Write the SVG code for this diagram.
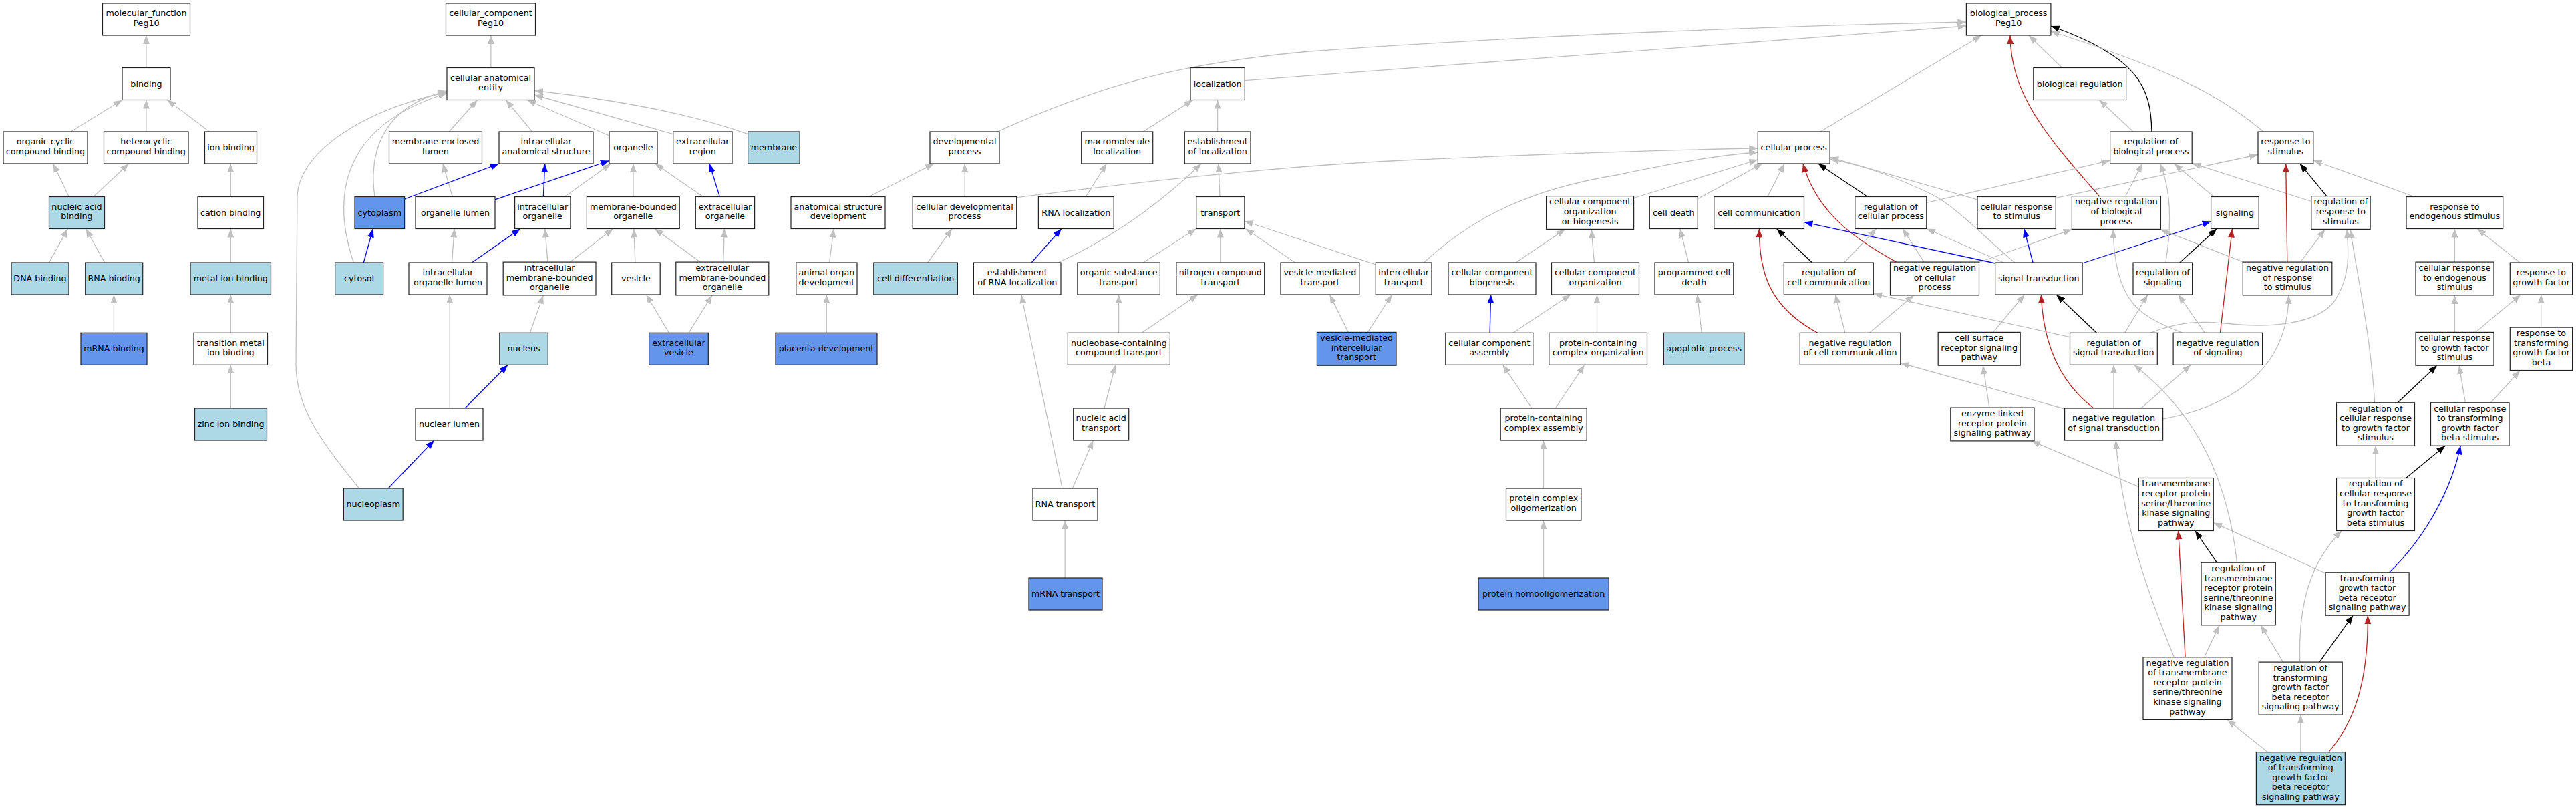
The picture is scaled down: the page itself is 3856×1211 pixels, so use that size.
<svg xmlns="http://www.w3.org/2000/svg" width="3856" height="1211" viewBox="0 0 3856 1211">
<style>
.n rect{fill:#fff;stroke:#222;stroke-width:1.2}
.lb rect{fill:#add8e6}
.cb rect{fill:#6495ed}
text{font-family:"DejaVu Sans","Liberation Sans",sans-serif;font-size:12.7px;text-anchor:middle;fill:#000}
#edges path{fill:none;stroke-width:1.3}
#edges .g{stroke:#c0c0c0;marker-end:url(#ag)}
#edges .b{stroke:#0000ff;marker-end:url(#ab)}
#edges .r{stroke:#b22222;marker-end:url(#ar)}
#edges .k{stroke:#000;marker-end:url(#ak)}
</style>
<defs>
<marker id="ag" viewBox="0 0 13 10" refX="13" refY="5" markerWidth="13" markerHeight="10" markerUnits="userSpaceOnUse" orient="auto"><path d="M0,0 L13,5 L0,10 z" fill="#c0c0c0"/></marker>
<marker id="ab" viewBox="0 0 13 10" refX="13" refY="5" markerWidth="13" markerHeight="10" markerUnits="userSpaceOnUse" orient="auto"><path d="M0,0 L13,5 L0,10 z" fill="#0000ff"/></marker>
<marker id="ar" viewBox="0 0 13 10" refX="13" refY="5" markerWidth="13" markerHeight="10" markerUnits="userSpaceOnUse" orient="auto"><path d="M0,0 L13,5 L0,10 z" fill="#b22222"/></marker>
<marker id="ak" viewBox="0 0 13 10" refX="13" refY="5" markerWidth="13" markerHeight="10" markerUnits="userSpaceOnUse" orient="auto"><path d="M0,0 L13,5 L0,10 z" fill="#000"/></marker>
</defs>
<rect x="0" y="0" width="3856" height="1211" fill="#fff"/>
<g id="edges">
<path class="g" d="M218.9,101.5 L218.9,53"/>
<path class="g" d="M106.1,197 L183,149.5"/>
<path class="g" d="M218.9,197 L218.9,149.5"/>
<path class="g" d="M313.4,197 L250.4,149.5"/>
<path class="g" d="M103.2,294.5 L79.6,245"/>
<path class="g" d="M140.1,294.5 L192.8,245"/>
<path class="g" d="M345.3,294.5 L345.3,245"/>
<path class="g" d="M73.4,393 L101.6,342.5"/>
<path class="g" d="M156.7,393 L128.5,342.5"/>
<path class="g" d="M345.3,393 L345.3,342.5"/>
<path class="g" d="M170.4,498.3 L170.4,441"/>
<path class="g" d="M345.3,498.3 L345.3,441"/>
<path class="g" d="M345.3,611 L345.3,546.3"/>
<path class="g" d="M734.9,101.5 L734.9,53"/>
<path class="g" d="M672.3,197 L714.6,149.5"/>
<path class="g" d="M796.7,197 L757.3,149.5"/>
<path class="g" d="M911.9,203 L789.2,149.5"/>
<path class="g" d="M1007.7,200.7 L800,142"/>
<path class="g" d="M1119.6,200.7 Q1000,158 800,135.5"/>
<path class="g" d="M560.9,294.5 C552,230 570,160 669,136"/>
<path class="g" d="M529.4,393 C498,300 505,190 669,139.5"/>
<path class="g" d="M537.7,731 C480,660 443,610 443,545 L445,292 C450,220 560,160 669,138"/>
<path class="g" d="M677.3,294.5 L662.8,245"/>
<path class="b" d="M741.1,298.8 L912,240.5"/>
<path class="b" d="M605.6,298 L747,245"/>
<path class="b" d="M813.3,294.5 L815.8,245"/>
<path class="g" d="M845.2,294.5 L914.4,245"/>
<path class="g" d="M948,294.5 L948,245"/>
<path class="g" d="M1052.5,294.5 L980.7,245"/>
<path class="b" d="M1077.3,294.5 L1062,245"/>
<path class="b" d="M544.3,393 L558.4,342.5"/>
<path class="g" d="M676.5,393 L680.2,342.5"/>
<path class="b" d="M706.3,393 L778.9,342.5"/>
<path class="g" d="M819.9,392.1 L815.8,342.5"/>
<path class="g" d="M853.5,392.1 L917.7,342.5"/>
<path class="g" d="M950.9,393 L948.8,342.5"/>
<path class="g" d="M1048.3,392.1 L980,342.5"/>
<path class="g" d="M1082.7,392.1 L1084.4,342.5"/>
<path class="g" d="M793.4,498.3 L813.3,441.9"/>
<path class="g" d="M1001.5,498.3 L967.5,441"/>
<path class="g" d="M1030.9,498.3 L1066.1,441.9"/>
<path class="g" d="M673.2,611 L673.2,441"/>
<path class="b" d="M696,611 L760.2,546.3"/>
<path class="b" d="M581.2,731 L650,659"/>
<path class="g" d="M1241.5,393 L1248.1,342.5"/>
<path class="g" d="M1237.3,498.3 L1237.3,441"/>
<path class="g" d="M1300.7,294.5 L1398.1,245"/>
<path class="g" d="M1444.2,294.5 L1444.2,245"/>
<path class="g" d="M1388.6,393 L1425.1,342.5"/>
<path class="g" d="M1493.5,197 C1640,130 1760,95 1960,77 C2300,52 2700,38 2943.4,33"/>
<path class="g" d="M1863.3,120.6 L2943.4,39"/>
<path class="g" d="M1711.1,197 L1785.7,149.5"/>
<path class="g" d="M1822.6,197 L1822.6,149.5"/>
<path class="g" d="M1521.7,295.7 C1700,273 1900,250 2100,240 C2350,229 2500,224 2631.3,222"/>
<path class="g" d="M1625.3,294.5 L1656.4,245"/>
<path class="g" d="M1826,294.5 L1823.9,245"/>
<path class="b" d="M1544.1,393 L1588.8,342.5"/>
<path class="g" d="M1583.9,393 Q1700,340 1798.2,245"/>
<path class="g" d="M1711.1,393 L1790.7,342.5"/>
<path class="g" d="M1826.8,393 L1826.8,342.5"/>
<path class="g" d="M1938.7,393 L1864.5,342.5"/>
<path class="g" d="M2059.3,396 L1862.9,331"/>
<path class="g" d="M1674.6,498.3 L1674.6,441"/>
<path class="g" d="M1709,498.3 L1793.2,441"/>
<path class="g" d="M1653.1,611 L1669.7,546.3"/>
<path class="g" d="M1590.1,731 L1528.7,441"/>
<path class="g" d="M1605.4,731 L1636.5,659"/>
<path class="g" d="M1594.2,865 L1594.2,779"/>
<path class="g" d="M2018.2,497.4 L1990.5,441"/>
<path class="g" d="M2047.3,497.4 L2083.7,441"/>
<path class="g" d="M2131.4,393 C2200,330 2280,285 2420,262 C2500,245 2570,232 2631.3,228"/>
<path class="g" d="M2269,393 L2342.8,343.4"/>
<path class="g" d="M2386.4,393 L2382.2,343.4"/>
<path class="b" d="M2230.1,498.3 L2231.7,441"/>
<path class="g" d="M2264.9,498.3 L2351.1,441"/>
<path class="g" d="M2390.5,498.3 L2390.5,441"/>
<path class="g" d="M2527.7,393 L2514.9,342.5"/>
<path class="g" d="M2547.2,498.3 L2540.6,441"/>
<path class="g" d="M2293.1,611 L2249.6,546.3"/>
<path class="g" d="M2328.3,611 L2371.8,546.3"/>
<path class="g" d="M2310.5,731 L2310.5,659"/>
<path class="g" d="M2310.5,865 L2310.5,779"/>
<path class="g" d="M2445.6,296.5 L2631.3,239"/>
<path class="g" d="M2541.4,297.6 L2638,245"/>
<path class="g" d="M2725,197 L2966.2,53"/>
<path class="g" d="M3086.5,101.5 L3036.7,53"/>
<path class="g" d="M3193,197 L3142.4,149.5"/>
<path class="k" d="M3220.9,197 C3220,130 3200,85 3069.9,39"/>
<path class="r" d="M3142.4,293.6 C3060,200 3010,140 3009,53"/>
<path class="g" d="M3388.3,197 C3320,140 3250,105 3069.9,47"/>
<path class="g" d="M2645.8,294.5 L2671.1,245"/>
<path class="k" d="M2795.5,294.5 L2721.7,245"/>
<path class="g" d="M2883.8,303.4 L3158.6,240.4"/>
<path class="g" d="M2960,298.8 L2739.1,235.4"/>
<path class="g" d="M3077.3,296.4 L3380,231.5"/>
<path class="g" d="M3016,393 C2975,360 2930,310 2890,290 C2830,262 2790,248 2739.1,238"/>
<path class="g" d="M2999.4,393 L2883.8,342.5"/>
<path class="k" d="M2712.5,393 L2659.5,342.5"/>
<path class="g" d="M2760.6,393 L2808.7,342.5"/>
<path class="r" d="M2838.6,392.1 C2780,360 2720,320 2698.9,245"/>
<path class="g" d="M2880,392.1 L2848.1,342.5"/>
<path class="g" d="M2962.5,392.5 L3101.4,343.4"/>
<path class="b" d="M2986.6,394 L2700.5,332.6"/>
<path class="b" d="M3043,393 L3029.7,342.5"/>
<path class="b" d="M3117.1,394 L3309.6,331.5"/>
<path class="k" d="M3138.3,498.3 L3078.2,441"/>
<path class="g" d="M3098.5,504.6 L2804.2,439.6"/>
<path class="g" d="M3180.6,498.3 L3215,441"/>
<path class="r" d="M2720.8,498.3 C2650,460 2633,410 2633.4,342.5"/>
<path class="g" d="M2761.9,498.3 L2747.4,441"/>
<path class="g" d="M2798.4,498.3 L2864.7,441.9"/>
<path class="g" d="M2983.7,497.4 L3030.5,441"/>
<path class="r" d="M3134.1,611 C3080,570 3058,510 3055.4,441"/>
<path class="g" d="M3164,611 L3164,546.3"/>
<path class="g" d="M3090.6,612 L2844.8,543.5"/>
<path class="g" d="M3237.7,627 C3330,610 3425,560 3425.9,441.9"/>
<path class="g" d="M3205,611 L3279.5,546.3"/>
<path class="g" d="M3300.4,498.3 L3260.7,441"/>
<path class="r" d="M3323.4,498.3 L3341.4,342.5"/>
<path class="k" d="M3262.8,393 L3318.4,342.5"/>
<path class="g" d="M3241.8,393 C3252,330 3248,280 3233.5,245"/>
<path class="g" d="M3266.9,498.3 C3210,475 3165,460 3163.2,343.4"/>
<path class="g" d="M3181.8,293.6 L3206.7,245"/>
<path class="g" d="M3459.8,301.5 L3281.2,244.5"/>
<path class="k" d="M3482.8,293.6 L3442.7,245"/>
<path class="g" d="M3313.8,294.5 L3254.4,245"/>
<path class="r" d="M3423.8,392.1 L3421.7,245"/>
<path class="g" d="M3443.5,392.1 L3480.3,343.4"/>
<path class="g" d="M3361,393.3 L3233.5,343.4"/>
<path class="g" d="M3614.2,294.5 L3462.8,240"/>
<path class="g" d="M3674.4,392.1 L3674.4,342.5"/>
<path class="g" d="M3771.9,393 L3708.3,342.5"/>
<path class="g" d="M3674.4,497.4 L3674.4,441.9"/>
<path class="g" d="M3705.4,497.4 L3773.2,441"/>
<path class="g" d="M3803.7,490.1 L3803.7,441"/>
<path class="k" d="M3589.1,602.8 L3647.7,547.2"/>
<path class="g" d="M3554.8,602.8 C3548,500 3530,420 3518,343.4"/>
<path class="g" d="M3218.8,498.3 C3260,482 3290,480 3330,484 C3400,492 3470,485 3495,450 C3518,415 3516,380 3513,343.4"/>
<path class="g" d="M3690.3,602.8 L3681.1,547.2"/>
<path class="g" d="M3728.4,602.8 L3772.3,554.5"/>
<path class="g" d="M3556,715.5 L3556,667.2"/>
<path class="k" d="M3601.6,715.5 L3660.2,667.2"/>
<path class="g" d="M3201.3,728.6 L3040.9,659.9"/>
<path class="g" d="M2977.9,610.1 L2968.3,547.2"/>
<path class="g" d="M3481.1,858 L3313.3,782.4"/>
<path class="b" d="M3576.5,856.8 C3625,810 3668,740 3683.2,667.2"/>
<path class="k" d="M3318.4,842.2 L3285.8,794.5"/>
<path class="g" d="M3348.5,842.2 C3335,720 3290,620 3194.3,546.3"/>
<path class="r" d="M3271.1,983.8 L3260.7,794.5"/>
<path class="g" d="M3299.6,983.8 L3322.2,935.8"/>
<path class="g" d="M3254.4,983.8 C3220,900 3175,780 3167.3,659"/>
<path class="g" d="M3417.6,991.1 L3384.1,935.8"/>
<path class="k" d="M3472,991.1 L3522.2,921.2"/>
<path class="g" d="M3442.7,991.1 C3440,900 3460,840 3505.4,794.5"/>
<path class="g" d="M3394.6,1125.7 L3333.9,1077.4"/>
<path class="g" d="M3443.9,1125.7 L3443.9,1070.1"/>
<path class="r" d="M3485.8,1125.7 C3525,1080 3545,1020 3544.3,921.2"/>
</g>
<g id="n_mf" class="n"><rect x="153.5" y="5" width="131" height="48"/><text><tspan x="219" y="24.2">molecular_function</tspan><tspan x="219" y="38.8">Peg10</tspan></text></g>
<g id="n_cc" class="n"><rect x="667.5" y="5" width="134" height="48"/><text><tspan x="734.5" y="24.2">cellular_component</tspan><tspan x="734.5" y="38.8">Peg10</tspan></text></g>
<g id="n_bp" class="n"><rect x="2943.4" y="5" width="126.5" height="48"/><text><tspan x="3006.65" y="24.2">biological_process</tspan><tspan x="3006.65" y="38.8">Peg10</tspan></text></g>
<g id="n_binding" class="n"><rect x="183" y="101.5" width="72" height="48"/><text x="219" y="129.5">binding</text></g>
<g id="n_cae" class="n"><rect x="669" y="101.5" width="131" height="48"/><text><tspan x="734.5" y="120.7">cellular anatomical</tspan><tspan x="734.5" y="135.3">entity</tspan></text></g>
<g id="n_loc" class="n"><rect x="1782" y="101.5" width="81.3" height="48"/><text x="1822.65" y="129.5">localization</text></g>
<g id="n_breg" class="n"><rect x="3043.8" y="101.5" width="138.8" height="48"/><text x="3113.2" y="129.5">biological regulation</text></g>
<g id="n_occb" class="n"><rect x="5" y="197" width="126" height="48"/><text><tspan x="68" y="216.2">organic cyclic</tspan><tspan x="68" y="230.8">compound binding</tspan></text></g>
<g id="n_hccb" class="n"><rect x="155.5" y="197" width="126.5" height="48"/><text><tspan x="218.75" y="216.2">heterocyclic</tspan><tspan x="218.75" y="230.8">compound binding</tspan></text></g>
<g id="n_ionb" class="n"><rect x="306.5" y="197" width="78" height="48"/><text x="345.5" y="225">ion binding</text></g>
<g id="n_mel" class="n"><rect x="582.5" y="197" width="139" height="48"/><text><tspan x="652" y="216.2">membrane-enclosed</tspan><tspan x="652" y="230.8">lumen</tspan></text></g>
<g id="n_ias" class="n"><rect x="747" y="197" width="141" height="48"/><text><tspan x="817.5" y="216.2">intracellular</tspan><tspan x="817.5" y="230.8">anatomical structure</tspan></text></g>
<g id="n_org" class="n"><rect x="912" y="197" width="72" height="48"/><text x="948" y="225">organelle</text></g>
<g id="n_ecr" class="n"><rect x="1007.7" y="197" width="88.3" height="48"/><text><tspan x="1051.85" y="216.2">extracellular</tspan><tspan x="1051.85" y="230.8">region</tspan></text></g>
<g id="n_mem" class="n lb"><rect x="1119.6" y="197" width="77.5" height="48"/><text x="1158.35" y="225">membrane</text></g>
<g id="n_dev" class="n"><rect x="1392" y="197" width="104" height="48"/><text><tspan x="1444" y="216.2">developmental</tspan><tspan x="1444" y="230.8">process</tspan></text></g>
<g id="n_mml" class="n"><rect x="1618.7" y="197" width="107" height="48"/><text><tspan x="1672.2" y="216.2">macromolecule</tspan><tspan x="1672.2" y="230.8">localization</tspan></text></g>
<g id="n_eloc" class="n"><rect x="1773.3" y="197" width="98.7" height="48"/><text><tspan x="1822.65" y="216.2">establishment</tspan><tspan x="1822.65" y="230.8">of localization</tspan></text></g>
<g id="n_cp" class="n"><rect x="2631.3" y="197" width="107.8" height="48"/><text x="2685.2" y="225">cellular process</text></g>
<g id="n_rbp" class="n"><rect x="3158.6" y="197" width="122.6" height="48"/><text><tspan x="3219.9" y="216.2">regulation of</tspan><tspan x="3219.9" y="230.8">biological process</tspan></text></g>
<g id="n_rs" class="n"><rect x="3380" y="197" width="82.8" height="48"/><text><tspan x="3421.4" y="216.2">response to</tspan><tspan x="3421.4" y="230.8">stimulus</tspan></text></g>
<g id="n_nab" class="n lb"><rect x="73.5" y="294.5" width="83" height="48"/><text><tspan x="115" y="313.7">nucleic acid</tspan><tspan x="115" y="328.3">binding</tspan></text></g>
<g id="n_catb" class="n"><rect x="296" y="294.5" width="98.5" height="48"/><text x="345.25" y="322.5">cation binding</text></g>
<g id="n_cyto" class="n cb"><rect x="531" y="294.5" width="74.6" height="48"/><text x="568.3" y="322.5">cytoplasm</text></g>
<g id="n_orgl" class="n"><rect x="622" y="294.5" width="119" height="48"/><text x="681.5" y="322.5">organelle lumen</text></g>
<g id="n_io" class="n"><rect x="770.6" y="294.5" width="83.3" height="48"/><text><tspan x="812.25" y="313.7">intracellular</tspan><tspan x="812.25" y="328.3">organelle</tspan></text></g>
<g id="n_mbo" class="n"><rect x="878.4" y="294.5" width="138.8" height="48"/><text><tspan x="947.8" y="313.7">membrane-bounded</tspan><tspan x="947.8" y="328.3">organelle</tspan></text></g>
<g id="n_eco" class="n"><rect x="1041.3" y="294.5" width="88.3" height="48"/><text><tspan x="1085.45" y="313.7">extracellular</tspan><tspan x="1085.45" y="328.3">organelle</tspan></text></g>
<g id="n_asd" class="n"><rect x="1184" y="294.5" width="141" height="48"/><text><tspan x="1254.5" y="313.7">anatomical structure</tspan><tspan x="1254.5" y="328.3">development</tspan></text></g>
<g id="n_cdp" class="n"><rect x="1366.2" y="294.5" width="155.5" height="48"/><text><tspan x="1443.95" y="313.7">cellular developmental</tspan><tspan x="1443.95" y="328.3">process</tspan></text></g>
<g id="n_rnal" class="n"><rect x="1554.4" y="294.5" width="112.8" height="48"/><text x="1610.8" y="322.5">RNA localization</text></g>
<g id="n_trans" class="n"><rect x="1790.7" y="294.5" width="72.2" height="48"/><text x="1826.8" y="322.5">transport</text></g>
<g id="n_ccob" class="n"><rect x="2314.6" y="293.6" width="131" height="49.8"/><text><tspan x="2380.1" y="306.4">cellular component</tspan><tspan x="2380.1" y="321">organization</tspan><tspan x="2380.1" y="335.6">or biogenesis</tspan></text></g>
<g id="n_cdeath" class="n"><rect x="2469.3" y="294.5" width="72" height="48"/><text x="2505.3" y="322.5">cell death</text></g>
<g id="n_ccomm" class="n"><rect x="2565.8" y="294.5" width="134.7" height="48"/><text x="2633.15" y="322.5">cell communication</text></g>
<g id="n_rcp" class="n"><rect x="2776.8" y="294.5" width="107" height="48"/><text><tspan x="2830.3" y="313.7">regulation of</tspan><tspan x="2830.3" y="328.3">cellular process</tspan></text></g>
<g id="n_crs" class="n"><rect x="2960" y="294.5" width="117.3" height="48"/><text><tspan x="3018.65" y="313.7">cellular response</tspan><tspan x="3018.65" y="328.3">to stimulus</tspan></text></g>
<g id="n_nrbp" class="n"><rect x="3101.4" y="293.6" width="133" height="49.8"/><text><tspan x="3167.9" y="306.4">negative regulation</tspan><tspan x="3167.9" y="321">of biological</tspan><tspan x="3167.9" y="335.6">process</tspan></text></g>
<g id="n_sig" class="n"><rect x="3309.6" y="294.5" width="71.6" height="48"/><text x="3345.4" y="322.5">signaling</text></g>
<g id="n_rrs" class="n"><rect x="3459.8" y="293.6" width="88.3" height="49.8"/><text><tspan x="3503.95" y="306.4">regulation of</tspan><tspan x="3503.95" y="321">response to</tspan><tspan x="3503.95" y="335.6">stimulus</tspan></text></g>
<g id="n_res" class="n"><rect x="3602" y="294.5" width="144.7" height="48"/><text><tspan x="3674.35" y="313.7">response to</tspan><tspan x="3674.35" y="328.3">endogenous stimulus</tspan></text></g>
<g id="n_dnab" class="n lb"><rect x="17" y="393" width="86" height="48"/><text x="60" y="421">DNA binding</text></g>
<g id="n_rnab" class="n lb"><rect x="127.7" y="393" width="86" height="48"/><text x="170.7" y="421">RNA binding</text></g>
<g id="n_metb" class="n lb"><rect x="285" y="393" width="120.5" height="48"/><text x="345.25" y="421">metal ion binding</text></g>
<g id="n_cytosol" class="n lb"><rect x="501.6" y="393" width="72" height="48"/><text x="537.6" y="421">cytosol</text></g>
<g id="n_iol" class="n"><rect x="612" y="393" width="117" height="48"/><text><tspan x="670.5" y="412.2">intracellular</tspan><tspan x="670.5" y="426.8">organelle lumen</tspan></text></g>
<g id="n_imbo" class="n"><rect x="753.2" y="392.1" width="138.8" height="49.8"/><text><tspan x="822.6" y="404.9">intracellular</tspan><tspan x="822.6" y="419.5">membrane-bounded</tspan><tspan x="822.6" y="434.1">organelle</tspan></text></g>
<g id="n_ves" class="n"><rect x="915.7" y="393" width="72.5" height="48"/><text x="951.95" y="421">vesicle</text></g>
<g id="n_embo" class="n"><rect x="1011.8" y="392.1" width="139" height="49.8"/><text><tspan x="1081.3" y="404.9">extracellular</tspan><tspan x="1081.3" y="419.5">membrane-bounded</tspan><tspan x="1081.3" y="434.1">organelle</tspan></text></g>
<g id="n_aod" class="n"><rect x="1191.8" y="393" width="91.2" height="48"/><text><tspan x="1237.4" y="412.2">animal organ</tspan><tspan x="1237.4" y="426.8">development</tspan></text></g>
<g id="n_cdiff" class="n lb"><rect x="1307.8" y="393" width="125.6" height="48"/><text x="1370.6" y="421">cell differentiation</text></g>
<g id="n_erl" class="n"><rect x="1457.4" y="393" width="130.6" height="48"/><text><tspan x="1522.7" y="412.2">establishment</tspan><tspan x="1522.7" y="426.8">of RNA localization</tspan></text></g>
<g id="n_ost" class="n"><rect x="1612.9" y="393" width="123.5" height="48"/><text><tspan x="1674.65" y="412.2">organic substance</tspan><tspan x="1674.65" y="426.8">transport</tspan></text></g>
<g id="n_nct" class="n"><rect x="1760.9" y="393" width="131.8" height="48"/><text><tspan x="1826.8" y="412.2">nitrogen compound</tspan><tspan x="1826.8" y="426.8">transport</tspan></text></g>
<g id="n_vmt" class="n"><rect x="1917" y="393" width="117.8" height="48"/><text><tspan x="1975.9" y="412.2">vesicle-mediated</tspan><tspan x="1975.9" y="426.8">transport</tspan></text></g>
<g id="n_ict" class="n"><rect x="2059.3" y="393" width="83.7" height="48"/><text><tspan x="2101.15" y="412.2">intercellular</tspan><tspan x="2101.15" y="426.8">transport</tspan></text></g>
<g id="n_ccb" class="n"><rect x="2168" y="393" width="131" height="48"/><text><tspan x="2233.5" y="412.2">cellular component</tspan><tspan x="2233.5" y="426.8">biogenesis</tspan></text></g>
<g id="n_cco" class="n"><rect x="2322.5" y="393" width="131" height="48"/><text><tspan x="2388" y="412.2">cellular component</tspan><tspan x="2388" y="426.8">organization</tspan></text></g>
<g id="n_pcd" class="n"><rect x="2477" y="393" width="117.8" height="48"/><text><tspan x="2535.9" y="412.2">programmed cell</tspan><tspan x="2535.9" y="426.8">death</tspan></text></g>
<g id="n_rcc" class="n"><rect x="2670.3" y="393" width="134" height="48"/><text><tspan x="2737.3" y="412.2">regulation of</tspan><tspan x="2737.3" y="426.8">cell communication</tspan></text></g>
<g id="n_nrcp" class="n"><rect x="2829.5" y="392.1" width="133" height="49.8"/><text><tspan x="2896" y="404.9">negative regulation</tspan><tspan x="2896" y="419.5">of cellular</tspan><tspan x="2896" y="434.1">process</tspan></text></g>
<g id="n_st" class="n"><rect x="2986.6" y="393" width="130.5" height="48"/><text x="3051.85" y="421">signal transduction</text></g>
<g id="n_rsig" class="n"><rect x="3193" y="393" width="88.6" height="48"/><text><tspan x="3237.3" y="412.2">regulation of</tspan><tspan x="3237.3" y="426.8">signaling</tspan></text></g>
<g id="n_nrrs" class="n"><rect x="3357.3" y="392.1" width="133.5" height="49.8"/><text><tspan x="3424.05" y="404.9">negative regulation</tspan><tspan x="3424.05" y="419.5">of response</tspan><tspan x="3424.05" y="434.1">to stimulus</tspan></text></g>
<g id="n_cres" class="n"><rect x="3616" y="392.1" width="117" height="49.8"/><text><tspan x="3674.5" y="404.9">cellular response</tspan><tspan x="3674.5" y="419.5">to endogenous</tspan><tspan x="3674.5" y="434.1">stimulus</tspan></text></g>
<g id="n_rgf" class="n"><rect x="3757.3" y="393" width="93.3" height="48"/><text><tspan x="3803.95" y="412.2">response to</tspan><tspan x="3803.95" y="426.8">growth factor</tspan></text></g>
<g id="n_mrnab" class="n cb"><rect x="121" y="498.3" width="99" height="48"/><text x="170.5" y="526.3">mRNA binding</text></g>
<g id="n_tmib" class="n"><rect x="290" y="498.3" width="110.5" height="48"/><text><tspan x="345.25" y="517.5">transition metal</tspan><tspan x="345.25" y="532.1">ion binding</tspan></text></g>
<g id="n_nuc" class="n lb"><rect x="747.8" y="498.3" width="72.5" height="48"/><text x="784.05" y="526.3">nucleus</text></g>
<g id="n_ecv" class="n cb"><rect x="971.6" y="498.3" width="88.7" height="48"/><text><tspan x="1015.95" y="517.5">extracellular</tspan><tspan x="1015.95" y="532.1">vesicle</tspan></text></g>
<g id="n_plac" class="n cb"><rect x="1161" y="498.3" width="152" height="48"/><text x="1237" y="526.3">placenta development</text></g>
<g id="n_nbct" class="n"><rect x="1598.4" y="498.3" width="153" height="48"/><text><tspan x="1674.9" y="517.5">nucleobase-containing</tspan><tspan x="1674.9" y="532.1">compound transport</tspan></text></g>
<g id="n_vmit" class="n cb"><rect x="1971.4" y="497.4" width="118.6" height="49.8"/><text><tspan x="2030.7" y="510.2">vesicle-mediated</tspan><tspan x="2030.7" y="524.8">intercellular</tspan><tspan x="2030.7" y="539.4">transport</tspan></text></g>
<g id="n_cca" class="n"><rect x="2163.8" y="498.3" width="131" height="48"/><text><tspan x="2229.3" y="517.5">cellular component</tspan><tspan x="2229.3" y="532.1">assembly</tspan></text></g>
<g id="n_pcco" class="n"><rect x="2318.8" y="498.3" width="146.7" height="48"/><text><tspan x="2392.15" y="517.5">protein-containing</tspan><tspan x="2392.15" y="532.1">complex organization</tspan></text></g>
<g id="n_apop" class="n lb"><rect x="2490.4" y="498.3" width="120.6" height="48"/><text x="2550.7" y="526.3">apoptotic process</text></g>
<g id="n_nrcc" class="n"><rect x="2694.3" y="498.3" width="150.5" height="48"/><text><tspan x="2769.55" y="517.5">negative regulation</tspan><tspan x="2769.55" y="532.1">of cell communication</tspan></text></g>
<g id="n_csrsp" class="n"><rect x="2901.2" y="497.4" width="123" height="49.8"/><text><tspan x="2962.7" y="510.2">cell surface</tspan><tspan x="2962.7" y="524.8">receptor signaling</tspan><tspan x="2962.7" y="539.4">pathway</tspan></text></g>
<g id="n_rst" class="n"><rect x="3098.5" y="498.3" width="130.8" height="48"/><text><tspan x="3163.9" y="517.5">regulation of</tspan><tspan x="3163.9" y="532.1">signal transduction</tspan></text></g>
<g id="n_nrs" class="n"><rect x="3253.1" y="498.3" width="133.5" height="48"/><text><tspan x="3319.85" y="517.5">negative regulation</tspan><tspan x="3319.85" y="532.1">of signaling</tspan></text></g>
<g id="n_crgfs" class="n"><rect x="3616" y="497.4" width="117" height="49.8"/><text><tspan x="3674.5" y="510.2">cellular response</tspan><tspan x="3674.5" y="524.8">to growth factor</tspan><tspan x="3674.5" y="539.4">stimulus</tspan></text></g>
<g id="n_rtgfb" class="n"><rect x="3757.3" y="490.1" width="93.3" height="64.4"/><text><tspan x="3803.95" y="502.9">response to</tspan><tspan x="3803.95" y="517.5">transforming</tspan><tspan x="3803.95" y="532.1">growth factor</tspan><tspan x="3803.95" y="546.7">beta</tspan></text></g>
<g id="n_znb" class="n lb"><rect x="291.5" y="611" width="108" height="48"/><text x="345.5" y="639">zinc ion binding</text></g>
<g id="n_nl" class="n"><rect x="622" y="611" width="101" height="48"/><text x="672.5" y="639">nuclear lumen</text></g>
<g id="n_nat" class="n"><rect x="1606.7" y="611" width="83" height="48"/><text><tspan x="1648.2" y="630.2">nucleic acid</tspan><tspan x="1648.2" y="644.8">transport</tspan></text></g>
<g id="n_pcca" class="n"><rect x="2246.2" y="611" width="129" height="48"/><text><tspan x="2310.7" y="630.2">protein-containing</tspan><tspan x="2310.7" y="644.8">complex assembly</tspan></text></g>
<g id="n_elrp" class="n"><rect x="2919.8" y="610.1" width="125.2" height="49.8"/><text><tspan x="2982.4" y="622.9">enzyme-linked</tspan><tspan x="2982.4" y="637.5">receptor protein</tspan><tspan x="2982.4" y="652.1">signaling pathway</tspan></text></g>
<g id="n_nrst" class="n"><rect x="3090.6" y="611" width="147" height="48"/><text><tspan x="3164.1" y="630.2">negative regulation</tspan><tspan x="3164.1" y="644.8">of signal transduction</tspan></text></g>
<g id="n_rcrgfs" class="n"><rect x="3497.5" y="602.8" width="117" height="64.4"/><text><tspan x="3556" y="615.6">regulation of</tspan><tspan x="3556" y="630.2">cellular response</tspan><tspan x="3556" y="644.8">to growth factor</tspan><tspan x="3556" y="659.4">stimulus</tspan></text></g>
<g id="n_crtgfbs" class="n"><rect x="3638.5" y="602.8" width="117.5" height="64.4"/><text><tspan x="3697.25" y="615.6">cellular response</tspan><tspan x="3697.25" y="630.2">to transforming</tspan><tspan x="3697.25" y="644.8">growth factor</tspan><tspan x="3697.25" y="659.4">beta stimulus</tspan></text></g>
<g id="n_np" class="n lb"><rect x="514.4" y="731" width="88.8" height="48"/><text x="558.8" y="759">nucleoplasm</text></g>
<g id="n_rnat" class="n"><rect x="1546" y="731" width="97" height="48"/><text x="1594.5" y="759">RNA transport</text></g>
<g id="n_pco" class="n"><rect x="2254.5" y="731" width="112.4" height="48"/><text><tspan x="2310.7" y="750.2">protein complex</tspan><tspan x="2310.7" y="764.8">oligomerization</tspan></text></g>
<g id="n_tmrp" class="n"><rect x="3201.3" y="715.5" width="112" height="79"/><text><tspan x="3257.3" y="728.3">transmembrane</tspan><tspan x="3257.3" y="742.9">receptor protein</tspan><tspan x="3257.3" y="757.5">serine/threonine</tspan><tspan x="3257.3" y="772.1">kinase signaling</tspan><tspan x="3257.3" y="786.7">pathway</tspan></text></g>
<g id="n_rcrtgfbs" class="n"><rect x="3497.5" y="715.5" width="117" height="79"/><text><tspan x="3556" y="728.3">regulation of</tspan><tspan x="3556" y="742.9">cellular response</tspan><tspan x="3556" y="757.5">to transforming</tspan><tspan x="3556" y="772.1">growth factor</tspan><tspan x="3556" y="786.7">beta stimulus</tspan></text></g>
<g id="n_mrnat" class="n cb"><rect x="1540" y="865" width="110" height="48"/><text x="1595" y="893">mRNA transport</text></g>
<g id="n_pho" class="n cb"><rect x="2213" y="865" width="195.3" height="48"/><text x="2310.65" y="893">protein homooligomerization</text></g>
<g id="n_rtmrp" class="n"><rect x="3295" y="842.2" width="111.3" height="93.6"/><text><tspan x="3350.65" y="855">regulation of</tspan><tspan x="3350.65" y="869.6">transmembrane</tspan><tspan x="3350.65" y="884.2">receptor protein</tspan><tspan x="3350.65" y="898.8">serine/threonine</tspan><tspan x="3350.65" y="913.4">kinase signaling</tspan><tspan x="3350.65" y="928">pathway</tspan></text></g>
<g id="n_tgfbrsp" class="n"><rect x="3481.1" y="856.8" width="125" height="64.4"/><text><tspan x="3543.6" y="869.6">transforming</tspan><tspan x="3543.6" y="884.2">growth factor</tspan><tspan x="3543.6" y="898.8">beta receptor</tspan><tspan x="3543.6" y="913.4">signaling pathway</tspan></text></g>
<g id="n_nrtmrp" class="n"><rect x="3208" y="983.8" width="133" height="93.6"/><text><tspan x="3274.5" y="996.6">negative regulation</tspan><tspan x="3274.5" y="1011.2">of transmembrane</tspan><tspan x="3274.5" y="1025.8">receptor protein</tspan><tspan x="3274.5" y="1040.4">serine/threonine</tspan><tspan x="3274.5" y="1055">kinase signaling</tspan><tspan x="3274.5" y="1069.6">pathway</tspan></text></g>
<g id="n_rtgfbrsp" class="n"><rect x="3381.2" y="991.1" width="125" height="79"/><text><tspan x="3443.7" y="1003.9">regulation of</tspan><tspan x="3443.7" y="1018.5">transforming</tspan><tspan x="3443.7" y="1033.1">growth factor</tspan><tspan x="3443.7" y="1047.7">beta receptor</tspan><tspan x="3443.7" y="1062.3">signaling pathway</tspan></text></g>
<g id="n_nrtgfbrsp" class="n lb"><rect x="3377.4" y="1125.7" width="133" height="79"/><text><tspan x="3443.9" y="1138.5">negative regulation</tspan><tspan x="3443.9" y="1153.1">of transforming</tspan><tspan x="3443.9" y="1167.7">growth factor</tspan><tspan x="3443.9" y="1182.3">beta receptor</tspan><tspan x="3443.9" y="1196.9">signaling pathway</tspan></text></g>
</svg>
